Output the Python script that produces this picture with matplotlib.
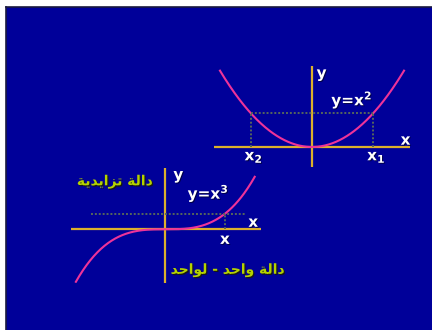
import numpy as np
import matplotlib
matplotlib.use("Agg")
import matplotlib.pyplot as plt
import matplotlib.patheffects as pe
from matplotlib.patches import Rectangle

# ---------------- data ----------------
x_curve = np.linspace(-3, 3, 301)          # domain drawn for both functions
sq_label = "y=x$^2$"
cube_label = "y=x$^3$"
sq_marks = [-2, 2]                         # x2, x1 on the parabola
sq_mark_labels = ["x$_2$", "x$_1$"]
cube_mark = 2                              # x on the cubic
cube_hline_span = [-2.5, 2.7]              # extent of dotted level line (cubic)
arabic_increasing = "دالة تزايدية"
arabic_one_to_one = "دالة واحد - لواحد"

# ---------------- colours ----------------
BG = "#000099"
AXIS = "#dcb02c"
CURVE = "#ee3399"
DOT = "#56665c"
LABEL = "white"
ARABIC = "#b4d200"

plt.rcParams["mathtext.fontset"] = "custom"
plt.rcParams["mathtext.rm"] = "DejaVu Sans:bold"
plt.rcParams["mathtext.it"] = "DejaVu Sans:bold"
plt.rcParams["mathtext.bf"] = "DejaVu Sans:bold"
plt.rcParams["mathtext.default"] = "rm"

# ---- minimal Arabic shaping (matplotlib has no complex text layout) ----
FORMS = {  # iso, fin, ini, med (None if non-joining to next)
    "\u0627": ("\uFE8D", "\uFE8E", None, None),
    "\u062F": ("\uFEA9", "\uFEAA", None, None),
    "\u0632": ("\uFEAF", "\uFEB0", None, None),
    "\u0648": ("\uFEED", "\uFEEE", None, None),
    "\u0629": ("\uFE93", "\uFE94", None, None),
    "\u0644": ("\uFEDD", "\uFEDE", "\uFEDF", "\uFEE0"),
    "\u062A": ("\uFE95", "\uFE96", "\uFE97", "\uFE98"),
    "\u064A": ("\uFEF1", "\uFEF2", "\uFEF3", "\uFEF4"),
    "\u062D": ("\uFEA1", "\uFEA2", "\uFEA3", "\uFEA4"),
}


def shape(s):
    out = []
    for i, ch in enumerate(s):
        if ch not in FORMS:
            out.append(ch)
            continue
        prev = s[i - 1] if i > 0 else ""
        nxt = s[i + 1] if i + 1 < len(s) else ""
        joins_prev = prev in FORMS and FORMS[prev][2] is not None
        joins_next = nxt in FORMS and FORMS[ch][2] is not None
        iso, fin, ini, med = FORMS[ch]
        if joins_prev and joins_next:
            out.append(med)
        elif joins_prev:
            out.append(fin)
        elif joins_next:
            out.append(ini)
        else:
            out.append(iso)
    return "".join(reversed(out))


fig = plt.figure(figsize=(4.32, 3.30), dpi=100)
fig.patch.set_facecolor("white")
fig.patches.append(Rectangle((6 / 432, 0), 1, 1 - 7 / 330, transform=fig.transFigure,
                             facecolor=BG, edgecolor="none", zorder=-5))
fig.add_artist(plt.Line2D([6 / 432, 1], [1 - 7 / 330] * 2, transform=fig.transFigure,
                          color="#1a1a40", lw=1.2, zorder=-4))
fig.add_artist(plt.Line2D([6 / 432] * 2, [0, 1 - 7 / 330], transform=fig.transFigure,
                          color="#1a1a40", lw=1.2, zorder=-4))

shadow = [pe.SimplePatchShadow(offset=(0.9, -0.9), shadow_rgbFace="#1a1a08", alpha=0.9),
          pe.Normal()]
wshadow = [pe.SimplePatchShadow(offset=(0.7, -0.7), shadow_rgbFace="#000033", alpha=0.8),
           pe.Normal()]
lab_kw = dict(color=LABEL, fontsize=11, fontweight="bold", va="center",
              path_effects=wshadow)
dot_kw = dict(colors=DOT, linestyles=(0, (1, 1)), lw=1.4)

# ---------------- parabola y = x^2 ----------------
ax1 = fig.add_axes([214 / 432, 163 / 330, 196 / 432, 101 / 330])
ax1.set_xlim(-3.195, 3.195)
ax1.set_ylim(-2.36, 9.55)
ax1.axis("off")
ax1.axhline(0, color=AXIS, lw=1.6)
ax1.axvline(0, color=AXIS, lw=1.6)
ax1.plot(x_curve, x_curve ** 2, color=CURVE, lw=1.5)
lvl = sq_marks[1] ** 2
ax1.hlines(lvl, sq_marks[0], sq_marks[1], **dot_kw)
for xm, lab in zip(sq_marks, sq_mark_labels):
    ax1.vlines(xm, 0, lvl, **dot_kw)
    ax1.text(xm + 0.1, -1.2, lab, ha="center", **lab_kw)
ax1.text(0.15, 8.7, "y", ha="left", **lab_kw)
ax1.text(1.3, 5.6, sq_label, ha="center", **lab_kw)
ax1.text(3.05, 0.8, "x", ha="center", **lab_kw)

# ---------------- cubic y = x^3 ----------------
ax2 = fig.add_axes([70.7 / 432, 47.3 / 330, 190 / 432, 114.7 / 330])
ax2.set_xlim(-3.174, 3.201)
ax2.set_ylim(-27.47, 31.53)
ax2.axis("off")
ax2.axhline(0, color=AXIS, lw=1.6)
ax2.axvline(0, color=AXIS, lw=1.6)
ax2.plot(x_curve, x_curve ** 3, color=CURVE, lw=1.5)
lvl3 = cube_mark ** 3
ax2.hlines(lvl3, cube_hline_span[0], cube_hline_span[1], **dot_kw)
ax2.vlines(cube_mark, 0, lvl3, **dot_kw)
ax2.text(0.27, 28, "y", ha="left", **lab_kw)
ax2.text(1.44, 18.7, cube_label, ha="center", **lab_kw)
ax2.text(2.95, 3.6, "x", ha="center", **lab_kw)
ax2.text(cube_mark, -5.2, "x", ha="center", **lab_kw)
ax2.text(-1.69, 24.5, shape(arabic_increasing), color=ARABIC, fontsize=10,
         fontweight="bold", family="DejaVu Sans", ha="center", va="center",
         path_effects=shadow)
ax2.text(2.1, -21, shape(arabic_one_to_one), color=ARABIC, fontsize=10,
         fontweight="bold", family="DejaVu Sans", ha="center", va="center",
         path_effects=shadow)

fig.savefig("out.png", dpi=100, facecolor=fig.get_facecolor())
